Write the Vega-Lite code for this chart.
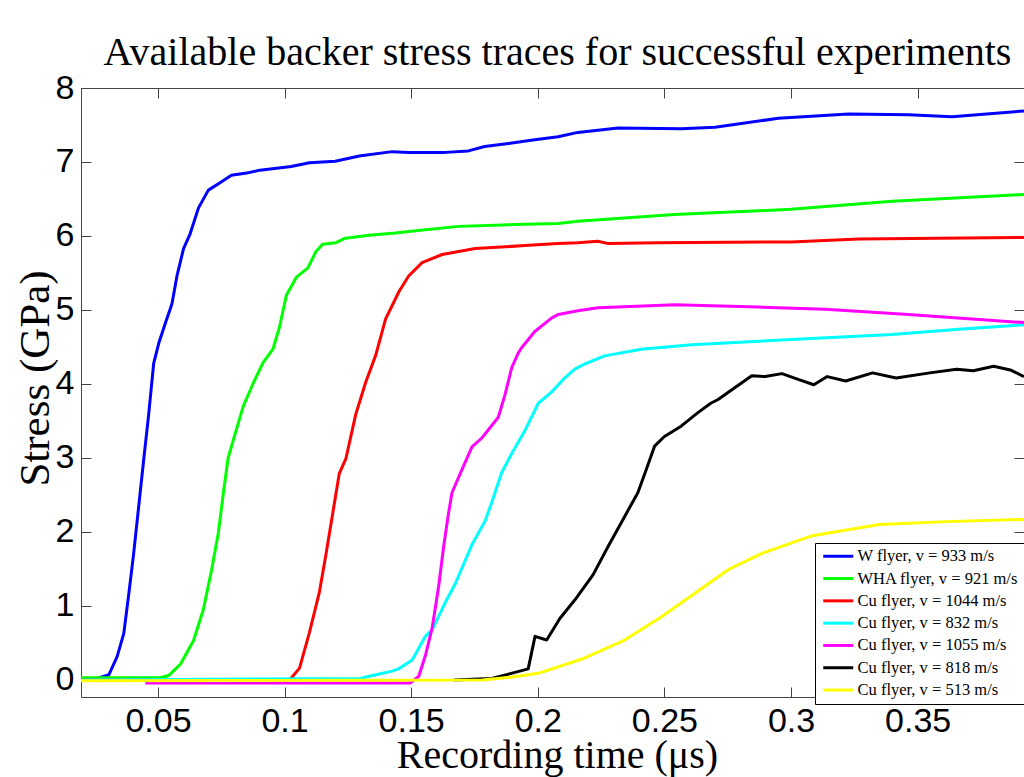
{
  "$schema": "https://vega.github.io/schema/vega-lite/v6.json",
  "width": 943,
  "height": 609,
  "autosize": {"type": "none"},
  "padding": {"left": 81, "top": 88, "right": 0, "bottom": 80},
  "background": "white",
  "title": {"text": "Available backer stress traces for successful experiments", "font": "Liberation Serif", "fontSize": 40, "fontWeight": "normal", "color": "black", "anchor": "middle", "frame": "group", "offset": 26, "baseline": "alphabetic", "dx": 5, "dy": 60},
  "config": {"view": {"stroke": "#444444", "strokeWidth": 1}},
  "datasets": {
    "traces": [
      {"s": "W flyer, v = 933 m/s", "t": 0.0196, "v": 0.02},
      {"s": "W flyer, v = 933 m/s", "t": 0.026, "v": 0.02},
      {"s": "W flyer, v = 933 m/s", "t": 0.0306, "v": 0.07},
      {"s": "W flyer, v = 933 m/s", "t": 0.0339, "v": 0.32},
      {"s": "W flyer, v = 933 m/s", "t": 0.0365, "v": 0.63},
      {"s": "W flyer, v = 933 m/s", "t": 0.0385, "v": 1.17},
      {"s": "W flyer, v = 933 m/s", "t": 0.0404, "v": 1.71},
      {"s": "W flyer, v = 933 m/s", "t": 0.0424, "v": 2.35},
      {"s": "W flyer, v = 933 m/s", "t": 0.0444, "v": 2.99},
      {"s": "W flyer, v = 933 m/s", "t": 0.0463, "v": 3.58},
      {"s": "W flyer, v = 933 m/s", "t": 0.0483, "v": 4.28},
      {"s": "W flyer, v = 933 m/s", "t": 0.0503, "v": 4.55},
      {"s": "W flyer, v = 933 m/s", "t": 0.0529, "v": 4.82},
      {"s": "W flyer, v = 933 m/s", "t": 0.0555, "v": 5.08},
      {"s": "W flyer, v = 933 m/s", "t": 0.0575, "v": 5.46},
      {"s": "W flyer, v = 933 m/s", "t": 0.0601, "v": 5.83},
      {"s": "W flyer, v = 933 m/s", "t": 0.0627, "v": 6.03},
      {"s": "W flyer, v = 933 m/s", "t": 0.066, "v": 6.38},
      {"s": "W flyer, v = 933 m/s", "t": 0.0699, "v": 6.62},
      {"s": "W flyer, v = 933 m/s", "t": 0.0745, "v": 6.72},
      {"s": "W flyer, v = 933 m/s", "t": 0.079, "v": 6.82},
      {"s": "W flyer, v = 933 m/s", "t": 0.085, "v": 6.85},
      {"s": "W flyer, v = 933 m/s", "t": 0.0902, "v": 6.89},
      {"s": "W flyer, v = 933 m/s", "t": 0.1026, "v": 6.94},
      {"s": "W flyer, v = 933 m/s", "t": 0.1098, "v": 6.99},
      {"s": "W flyer, v = 933 m/s", "t": 0.12, "v": 7.01},
      {"s": "W flyer, v = 933 m/s", "t": 0.1295, "v": 7.08},
      {"s": "W flyer, v = 933 m/s", "t": 0.1425, "v": 7.14},
      {"s": "W flyer, v = 933 m/s", "t": 0.149, "v": 7.13},
      {"s": "W flyer, v = 933 m/s", "t": 0.1635, "v": 7.13},
      {"s": "W flyer, v = 933 m/s", "t": 0.1726, "v": 7.15},
      {"s": "W flyer, v = 933 m/s", "t": 0.179, "v": 7.21},
      {"s": "W flyer, v = 933 m/s", "t": 0.1884, "v": 7.25},
      {"s": "W flyer, v = 933 m/s", "t": 0.1988, "v": 7.3},
      {"s": "W flyer, v = 933 m/s", "t": 0.208, "v": 7.34},
      {"s": "W flyer, v = 933 m/s", "t": 0.2158, "v": 7.4},
      {"s": "W flyer, v = 933 m/s", "t": 0.2317, "v": 7.46},
      {"s": "W flyer, v = 933 m/s", "t": 0.2567, "v": 7.45},
      {"s": "W flyer, v = 933 m/s", "t": 0.27, "v": 7.47},
      {"s": "W flyer, v = 933 m/s", "t": 0.295, "v": 7.59},
      {"s": "W flyer, v = 933 m/s", "t": 0.3227, "v": 7.65},
      {"s": "W flyer, v = 933 m/s", "t": 0.3464, "v": 7.64},
      {"s": "W flyer, v = 933 m/s", "t": 0.3636, "v": 7.61},
      {"s": "W flyer, v = 933 m/s", "t": 0.392, "v": 7.69},
      {"s": "WHA flyer, v = 921 m/s", "t": 0.0196, "v": 0.03},
      {"s": "WHA flyer, v = 921 m/s", "t": 0.051, "v": 0.03},
      {"s": "WHA flyer, v = 921 m/s", "t": 0.0542, "v": 0.06},
      {"s": "WHA flyer, v = 921 m/s", "t": 0.0588, "v": 0.21},
      {"s": "WHA flyer, v = 921 m/s", "t": 0.064, "v": 0.53},
      {"s": "WHA flyer, v = 921 m/s", "t": 0.0679, "v": 0.95},
      {"s": "WHA flyer, v = 921 m/s", "t": 0.0712, "v": 1.49},
      {"s": "WHA flyer, v = 921 m/s", "t": 0.0738, "v": 1.98},
      {"s": "WHA flyer, v = 921 m/s", "t": 0.0758, "v": 2.52},
      {"s": "WHA flyer, v = 921 m/s", "t": 0.0777, "v": 3.0},
      {"s": "WHA flyer, v = 921 m/s", "t": 0.0804, "v": 3.32},
      {"s": "WHA flyer, v = 921 m/s", "t": 0.0836, "v": 3.69},
      {"s": "WHA flyer, v = 921 m/s", "t": 0.0876, "v": 4.01},
      {"s": "WHA flyer, v = 921 m/s", "t": 0.0915, "v": 4.29},
      {"s": "WHA flyer, v = 921 m/s", "t": 0.0954, "v": 4.47},
      {"s": "WHA flyer, v = 921 m/s", "t": 0.098, "v": 4.77},
      {"s": "WHA flyer, v = 921 m/s", "t": 0.1007, "v": 5.2},
      {"s": "WHA flyer, v = 921 m/s", "t": 0.1046, "v": 5.44},
      {"s": "WHA flyer, v = 921 m/s", "t": 0.1092, "v": 5.57},
      {"s": "WHA flyer, v = 921 m/s", "t": 0.1124, "v": 5.79},
      {"s": "WHA flyer, v = 921 m/s", "t": 0.115, "v": 5.89},
      {"s": "WHA flyer, v = 921 m/s", "t": 0.1203, "v": 5.91},
      {"s": "WHA flyer, v = 921 m/s", "t": 0.124, "v": 5.97},
      {"s": "WHA flyer, v = 921 m/s", "t": 0.1334, "v": 6.01},
      {"s": "WHA flyer, v = 921 m/s", "t": 0.1438, "v": 6.04},
      {"s": "WHA flyer, v = 921 m/s", "t": 0.149, "v": 6.06},
      {"s": "WHA flyer, v = 921 m/s", "t": 0.1687, "v": 6.13},
      {"s": "WHA flyer, v = 921 m/s", "t": 0.195, "v": 6.16},
      {"s": "WHA flyer, v = 921 m/s", "t": 0.208, "v": 6.17},
      {"s": "WHA flyer, v = 921 m/s", "t": 0.2158, "v": 6.2},
      {"s": "WHA flyer, v = 921 m/s", "t": 0.254, "v": 6.29},
      {"s": "WHA flyer, v = 921 m/s", "t": 0.3, "v": 6.36},
      {"s": "WHA flyer, v = 921 m/s", "t": 0.34, "v": 6.47},
      {"s": "WHA flyer, v = 921 m/s", "t": 0.392, "v": 6.56},
      {"s": "Cu flyer, v = 1044 m/s", "t": 0.0196, "v": 0.0},
      {"s": "Cu flyer, v = 1044 m/s", "t": 0.102, "v": 0.0},
      {"s": "Cu flyer, v = 1044 m/s", "t": 0.1059, "v": 0.16},
      {"s": "Cu flyer, v = 1044 m/s", "t": 0.1098, "v": 0.64},
      {"s": "Cu flyer, v = 1044 m/s", "t": 0.1137, "v": 1.18},
      {"s": "Cu flyer, v = 1044 m/s", "t": 0.1164, "v": 1.71},
      {"s": "Cu flyer, v = 1044 m/s", "t": 0.119, "v": 2.25},
      {"s": "Cu flyer, v = 1044 m/s", "t": 0.1216, "v": 2.79},
      {"s": "Cu flyer, v = 1044 m/s", "t": 0.1242, "v": 2.99},
      {"s": "Cu flyer, v = 1044 m/s", "t": 0.1281, "v": 3.59},
      {"s": "Cu flyer, v = 1044 m/s", "t": 0.132, "v": 4.02},
      {"s": "Cu flyer, v = 1044 m/s", "t": 0.136, "v": 4.39},
      {"s": "Cu flyer, v = 1044 m/s", "t": 0.1399, "v": 4.88},
      {"s": "Cu flyer, v = 1044 m/s", "t": 0.1452, "v": 5.25},
      {"s": "Cu flyer, v = 1044 m/s", "t": 0.149, "v": 5.46},
      {"s": "Cu flyer, v = 1044 m/s", "t": 0.1543, "v": 5.64},
      {"s": "Cu flyer, v = 1044 m/s", "t": 0.1622, "v": 5.75},
      {"s": "Cu flyer, v = 1044 m/s", "t": 0.1753, "v": 5.83},
      {"s": "Cu flyer, v = 1044 m/s", "t": 0.1949, "v": 5.87},
      {"s": "Cu flyer, v = 1044 m/s", "t": 0.208, "v": 5.9},
      {"s": "Cu flyer, v = 1044 m/s", "t": 0.2158, "v": 5.91},
      {"s": "Cu flyer, v = 1044 m/s", "t": 0.2237, "v": 5.93},
      {"s": "Cu flyer, v = 1044 m/s", "t": 0.2275, "v": 5.9},
      {"s": "Cu flyer, v = 1044 m/s", "t": 0.2475, "v": 5.91},
      {"s": "Cu flyer, v = 1044 m/s", "t": 0.3, "v": 5.92},
      {"s": "Cu flyer, v = 1044 m/s", "t": 0.3267, "v": 5.96},
      {"s": "Cu flyer, v = 1044 m/s", "t": 0.392, "v": 5.98},
      {"s": "Cu flyer, v = 832 m/s", "t": 0.0196, "v": 0.0},
      {"s": "Cu flyer, v = 832 m/s", "t": 0.13, "v": 0.02},
      {"s": "Cu flyer, v = 832 m/s", "t": 0.1334, "v": 0.05},
      {"s": "Cu flyer, v = 832 m/s", "t": 0.1425, "v": 0.12},
      {"s": "Cu flyer, v = 832 m/s", "t": 0.145, "v": 0.15},
      {"s": "Cu flyer, v = 832 m/s", "t": 0.1504, "v": 0.27},
      {"s": "Cu flyer, v = 832 m/s", "t": 0.1556, "v": 0.59},
      {"s": "Cu flyer, v = 832 m/s", "t": 0.1583, "v": 0.68},
      {"s": "Cu flyer, v = 832 m/s", "t": 0.1635, "v": 1.05},
      {"s": "Cu flyer, v = 832 m/s", "t": 0.1674, "v": 1.3},
      {"s": "Cu flyer, v = 832 m/s", "t": 0.174, "v": 1.83},
      {"s": "Cu flyer, v = 832 m/s", "t": 0.1792, "v": 2.15},
      {"s": "Cu flyer, v = 832 m/s", "t": 0.1818, "v": 2.4},
      {"s": "Cu flyer, v = 832 m/s", "t": 0.1857, "v": 2.8},
      {"s": "Cu flyer, v = 832 m/s", "t": 0.1897, "v": 3.06},
      {"s": "Cu flyer, v = 832 m/s", "t": 0.1949, "v": 3.37},
      {"s": "Cu flyer, v = 832 m/s", "t": 0.2002, "v": 3.74},
      {"s": "Cu flyer, v = 832 m/s", "t": 0.2054, "v": 3.89},
      {"s": "Cu flyer, v = 832 m/s", "t": 0.2106, "v": 4.08},
      {"s": "Cu flyer, v = 832 m/s", "t": 0.2146, "v": 4.2},
      {"s": "Cu flyer, v = 832 m/s", "t": 0.2185, "v": 4.27},
      {"s": "Cu flyer, v = 832 m/s", "t": 0.2264, "v": 4.38},
      {"s": "Cu flyer, v = 832 m/s", "t": 0.2409, "v": 4.47},
      {"s": "Cu flyer, v = 832 m/s", "t": 0.2607, "v": 4.53},
      {"s": "Cu flyer, v = 832 m/s", "t": 0.3, "v": 4.6},
      {"s": "Cu flyer, v = 832 m/s", "t": 0.3398, "v": 4.67},
      {"s": "Cu flyer, v = 832 m/s", "t": 0.3662, "v": 4.74},
      {"s": "Cu flyer, v = 832 m/s", "t": 0.392, "v": 4.8},
      {"s": "Cu flyer, v = 1055 m/s", "t": 0.045, "v": -0.04},
      {"s": "Cu flyer, v = 1055 m/s", "t": 0.1497, "v": -0.04},
      {"s": "Cu flyer, v = 1055 m/s", "t": 0.153, "v": 0.05},
      {"s": "Cu flyer, v = 1055 m/s", "t": 0.1556, "v": 0.33},
      {"s": "Cu flyer, v = 1055 m/s", "t": 0.1582, "v": 0.69},
      {"s": "Cu flyer, v = 1055 m/s", "t": 0.1596, "v": 0.99},
      {"s": "Cu flyer, v = 1055 m/s", "t": 0.1609, "v": 1.28},
      {"s": "Cu flyer, v = 1055 m/s", "t": 0.1628, "v": 1.8},
      {"s": "Cu flyer, v = 1055 m/s", "t": 0.1645, "v": 2.2},
      {"s": "Cu flyer, v = 1055 m/s", "t": 0.1661, "v": 2.53},
      {"s": "Cu flyer, v = 1055 m/s", "t": 0.17, "v": 2.84},
      {"s": "Cu flyer, v = 1055 m/s", "t": 0.174, "v": 3.15},
      {"s": "Cu flyer, v = 1055 m/s", "t": 0.1779, "v": 3.27},
      {"s": "Cu flyer, v = 1055 m/s", "t": 0.1844, "v": 3.55},
      {"s": "Cu flyer, v = 1055 m/s", "t": 0.187, "v": 3.85},
      {"s": "Cu flyer, v = 1055 m/s", "t": 0.1897, "v": 4.22},
      {"s": "Cu flyer, v = 1055 m/s", "t": 0.1923, "v": 4.42},
      {"s": "Cu flyer, v = 1055 m/s", "t": 0.1936, "v": 4.49},
      {"s": "Cu flyer, v = 1055 m/s", "t": 0.1988, "v": 4.71},
      {"s": "Cu flyer, v = 1055 m/s", "t": 0.2054, "v": 4.89},
      {"s": "Cu flyer, v = 1055 m/s", "t": 0.2081, "v": 4.94},
      {"s": "Cu flyer, v = 1055 m/s", "t": 0.2158, "v": 4.99},
      {"s": "Cu flyer, v = 1055 m/s", "t": 0.2238, "v": 5.03},
      {"s": "Cu flyer, v = 1055 m/s", "t": 0.2541, "v": 5.07},
      {"s": "Cu flyer, v = 1055 m/s", "t": 0.287, "v": 5.04},
      {"s": "Cu flyer, v = 1055 m/s", "t": 0.3135, "v": 5.01},
      {"s": "Cu flyer, v = 1055 m/s", "t": 0.3464, "v": 4.94},
      {"s": "Cu flyer, v = 1055 m/s", "t": 0.392, "v": 4.83},
      {"s": "Cu flyer, v = 818 m/s", "t": 0.167, "v": 0.0},
      {"s": "Cu flyer, v = 818 m/s", "t": 0.1818, "v": 0.02},
      {"s": "Cu flyer, v = 818 m/s", "t": 0.1962, "v": 0.15},
      {"s": "Cu flyer, v = 818 m/s", "t": 0.1989, "v": 0.59},
      {"s": "Cu flyer, v = 818 m/s", "t": 0.2035, "v": 0.54},
      {"s": "Cu flyer, v = 818 m/s", "t": 0.2087, "v": 0.83},
      {"s": "Cu flyer, v = 818 m/s", "t": 0.2146, "v": 1.08},
      {"s": "Cu flyer, v = 818 m/s", "t": 0.2218, "v": 1.42},
      {"s": "Cu flyer, v = 818 m/s", "t": 0.2277, "v": 1.8},
      {"s": "Cu flyer, v = 818 m/s", "t": 0.2343, "v": 2.21},
      {"s": "Cu flyer, v = 818 m/s", "t": 0.2395, "v": 2.53},
      {"s": "Cu flyer, v = 818 m/s", "t": 0.2428, "v": 2.84},
      {"s": "Cu flyer, v = 818 m/s", "t": 0.2461, "v": 3.16},
      {"s": "Cu flyer, v = 818 m/s", "t": 0.25, "v": 3.29},
      {"s": "Cu flyer, v = 818 m/s", "t": 0.2566, "v": 3.43},
      {"s": "Cu flyer, v = 818 m/s", "t": 0.2631, "v": 3.61},
      {"s": "Cu flyer, v = 818 m/s", "t": 0.2683, "v": 3.74},
      {"s": "Cu flyer, v = 818 m/s", "t": 0.2712, "v": 3.79},
      {"s": "Cu flyer, v = 818 m/s", "t": 0.2765, "v": 3.92},
      {"s": "Cu flyer, v = 818 m/s", "t": 0.2845, "v": 4.11},
      {"s": "Cu flyer, v = 818 m/s", "t": 0.2898, "v": 4.1},
      {"s": "Cu flyer, v = 818 m/s", "t": 0.2964, "v": 4.14},
      {"s": "Cu flyer, v = 818 m/s", "t": 0.3031, "v": 4.06},
      {"s": "Cu flyer, v = 818 m/s", "t": 0.309, "v": 3.99},
      {"s": "Cu flyer, v = 818 m/s", "t": 0.3143, "v": 4.1},
      {"s": "Cu flyer, v = 818 m/s", "t": 0.3216, "v": 4.04},
      {"s": "Cu flyer, v = 818 m/s", "t": 0.3322, "v": 4.15},
      {"s": "Cu flyer, v = 818 m/s", "t": 0.3415, "v": 4.08},
      {"s": "Cu flyer, v = 818 m/s", "t": 0.3548, "v": 4.15},
      {"s": "Cu flyer, v = 818 m/s", "t": 0.3654, "v": 4.2},
      {"s": "Cu flyer, v = 818 m/s", "t": 0.372, "v": 4.18},
      {"s": "Cu flyer, v = 818 m/s", "t": 0.38, "v": 4.24},
      {"s": "Cu flyer, v = 818 m/s", "t": 0.3866, "v": 4.19},
      {"s": "Cu flyer, v = 818 m/s", "t": 0.392, "v": 4.1},
      {"s": "Cu flyer, v = 513 m/s", "t": 0.0196, "v": -0.01},
      {"s": "Cu flyer, v = 513 m/s", "t": 0.178, "v": 0.0},
      {"s": "Cu flyer, v = 513 m/s", "t": 0.19, "v": 0.04},
      {"s": "Cu flyer, v = 513 m/s", "t": 0.2002, "v": 0.09},
      {"s": "Cu flyer, v = 513 m/s", "t": 0.2172, "v": 0.28},
      {"s": "Cu flyer, v = 513 m/s", "t": 0.2343, "v": 0.54},
      {"s": "Cu flyer, v = 513 m/s", "t": 0.2487, "v": 0.85},
      {"s": "Cu flyer, v = 513 m/s", "t": 0.2619, "v": 1.17},
      {"s": "Cu flyer, v = 513 m/s", "t": 0.2752, "v": 1.49},
      {"s": "Cu flyer, v = 513 m/s", "t": 0.2885, "v": 1.71},
      {"s": "Cu flyer, v = 513 m/s", "t": 0.3084, "v": 1.95},
      {"s": "Cu flyer, v = 513 m/s", "t": 0.3349, "v": 2.1},
      {"s": "Cu flyer, v = 513 m/s", "t": 0.3614, "v": 2.14},
      {"s": "Cu flyer, v = 513 m/s", "t": 0.392, "v": 2.17}
    ]
  },
  "data": {"name": "traces"},
  "mark": {"type": "line", "strokeWidth": 3, "clip": true, "strokeJoin": "round"},
  "encoding": {
    "x": {
      "field": "t", "type": "quantitative",
      "scale": {"domain": [0.0196, 0.392], "nice": false, "zero": false},
      "axis": {
        "orient": "bottom", "values": [0.05, 0.1, 0.15, 0.2, 0.25, 0.3, 0.35], "format": "~g",
        "grid": true, "gridColor": "#444444", "gridOpacity": 1, "gridWidth": 1, "gridDash": [10, 589],
        "ticks": false, "domain": false,
        "labelFont": "Liberation Sans", "labelFontSize": 34, "labelColor": "black",
        "labelFlush": false, "labelOverlap": false, "labelPadding": 7,
        "title": "Recording time (μs)", "titleFont": "Liberation Serif", "titleFontSize": 40,
        "titleFontWeight": "normal", "titleColor": "black", "titleX": 476, "titleY": 70,
        "titleBaseline": "alphabetic", "titleAlign": "center"
      }
    },
    "y": {
      "field": "v", "type": "quantitative",
      "scale": {"domain": [-0.23, 8], "nice": false, "zero": false},
      "axis": {
        "orient": "left", "values": [0, 1, 2, 3, 4, 5, 6, 7, 8], "format": "d",
        "grid": true, "gridColor": "#444444", "gridOpacity": 1, "gridWidth": 1, "gridDash": [10, 923],
        "ticks": false, "domain": false,
        "labelFont": "Liberation Sans", "labelFontSize": 34, "labelColor": "black",
        "labelFlush": false, "labelOverlap": false, "labelPadding": 7,
        "title": "Stress (GPa)", "titleFont": "Liberation Serif", "titleFontSize": 43,
        "titleFontWeight": "normal", "titleColor": "black", "titleX": -46, "titleY": 290,
        "titleAngle": -90, "titleBaseline": "middle", "titleAlign": "center"
      }
    },
    "color": {
      "field": "s", "type": "nominal",
      "scale": {
        "domain": ["W flyer, v = 933 m/s", "WHA flyer, v = 921 m/s", "Cu flyer, v = 1044 m/s", "Cu flyer, v = 832 m/s", "Cu flyer, v = 1055 m/s", "Cu flyer, v = 818 m/s", "Cu flyer, v = 513 m/s"],
        "range": ["#0000ff", "#00ff00", "#ff0000", "#00ffff", "#ff00ff", "#000000", "#ffff00"]
      },
      "legend": {
        "orient": "none", "legendX": 734, "legendY": 455, "title": null,
        "strokeColor": "black", "fillColor": "white", "padding": 5,
        "labelFont": "Liberation Serif", "labelFontSize": 16.5, "labelColor": "black",
        "symbolType": "M-3,0H3", "symbolSize": 100, "symbolStrokeWidth": 3, "symbolOffset": 10,
        "rowPadding": 5.3, "labelOffset": 11, "labelLimit": 400
      }
    }
  }
}
